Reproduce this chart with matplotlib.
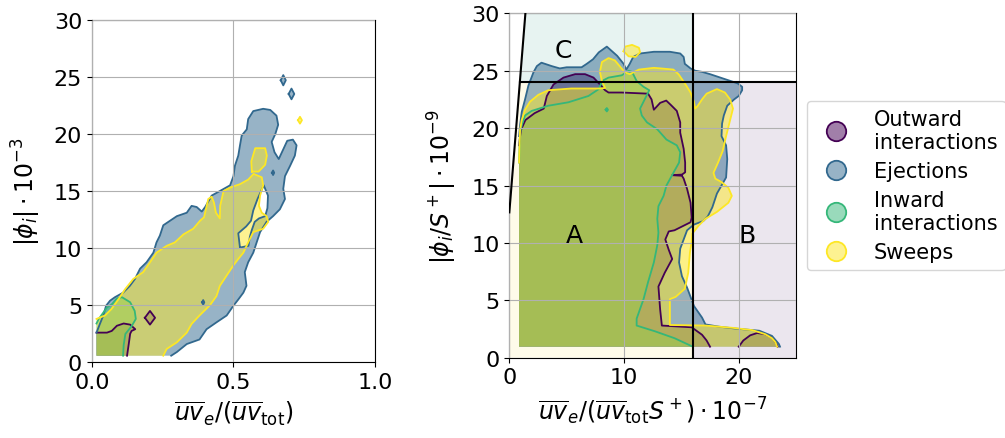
import numpy as np
import matplotlib
matplotlib.use("Agg")
import matplotlib.pyplot as plt
from matplotlib.path import Path
from matplotlib.patches import PathPatch
from matplotlib.lines import Line2D

# quadrant names and viridis colours
labels = ["Outward\ninteractions", "Ejections", "Inward\ninteractions", "Sweeps"]
colors = ["#440154", "#31688e", "#35b779", "#fde725"]

# ---- left panel: |phi_i| vs uv_e/uv_tot, contour outlines (x, y) ----
left_origin = (0.016, 0.58)   # lower-left corner of the kde grid

left_outward = [(0.124, 0.58), (0.13, 1.6), (0.135, 2.5), (0.14, 2.75), (0.153, 2.9),
                (0.135, 3.3), (0.112, 3.4), (0.088, 3.2), (0.07, 2.75), (0.053, 2.6),
                (0.016, 2.6)]
left_outward_island = [(0.187, 3.9), (0.205, 4.5), (0.223, 3.9), (0.205, 3.3)]

left_ejections = [(0.28, 0.58), (0.30, 0.9), (0.335, 1.6), (0.38, 2.0), (0.405, 2.9),
                  (0.44, 3.5), (0.476, 4.1), (0.5, 4.96), (0.517, 5.5), (0.535, 6.1),
                  (0.546, 6.7), (0.54, 7.9), (0.552, 8.76), (0.57, 9.6), (0.582, 10.5),
                  (0.594, 11.4), (0.617, 12.3), (0.64, 12.8), (0.664, 13.4), (0.682, 14.3),
                  (0.676, 15.2), (0.682, 16.3), (0.7, 17.2), (0.717, 18.1), (0.723, 19.0),
                  (0.71, 19.5), (0.69, 19.4), (0.675, 18.6), (0.66, 17.8), (0.645, 18.4),
                  (0.635, 19.3), (0.648, 20.0), (0.658, 20.8), (0.652, 21.6), (0.63, 22.1),
                  (0.605, 22.2), (0.57, 22.0), (0.552, 21.3), (0.547, 20.4), (0.529, 19.85),
                  (0.523, 19.0), (0.517, 18.1), (0.505, 17.2), (0.5, 16.3), (0.488, 15.5),
                  (0.452, 15.0), (0.423, 14.6), (0.40, 13.6), (0.388, 13.2), (0.37, 13.6),
                  (0.352, 13.7), (0.335, 13.1), (0.3, 12.8), (0.276, 12.4), (0.252, 12.0),
                  (0.24, 11.1), (0.228, 10.5), (0.217, 9.6), (0.193, 8.76), (0.17, 8.2),
                  (0.152, 7.3), (0.134, 6.7), (0.11, 6.1), (0.081, 5.7), (0.064, 5.4),
                  (0.05, 4.96), (0.04, 4.1), (0.028, 3.36), (0.016, 2.6)]
left_ejections_hole = [(0.523, 10.05), (0.517, 11.3), (0.545, 11.9), (0.562, 12.4),
                       (0.57, 13.3), (0.585, 14.3), (0.607, 15.5), (0.622, 14.6),
                       (0.62, 13.5), (0.612, 12.8), (0.59, 12.6), (0.575, 12.3),
                       (0.565, 11.6), (0.558, 11.0), (0.553, 10.2)]
left_ejections_islands = [
    [(0.667, 24.7), (0.676, 25.15), (0.685, 24.7), (0.676, 24.25)],
    [(0.695, 23.5), (0.705, 23.97), (0.715, 23.5), (0.705, 23.03)],
    [(0.389, 5.25), (0.393, 5.45), (0.397, 5.25), (0.393, 5.05)],
    [(0.636, 16.6), (0.64, 16.8), (0.644, 16.6), (0.64, 16.4)],
]

left_inward = [(0.11, 0.58), (0.112, 1.5), (0.118, 2.48), (0.141, 3.2), (0.155, 3.8),
               (0.151, 4.5), (0.135, 5.26), (0.106, 5.7), (0.088, 5.6), (0.071, 5.1),
               (0.053, 4.8), (0.024, 3.8), (0.016, 3.4)]

left_sweeps = [(0.252, 0.58), (0.264, 1.17), (0.3, 1.75), (0.335, 2.6), (0.352, 3.36),
               (0.38, 4.1), (0.417, 5.0), (0.44, 5.8), (0.452, 6.7), (0.476, 7.6),
               (0.5, 8.5), (0.517, 9.05), (0.535, 9.6), (0.552, 10.5), (0.57, 11.4),
               (0.605, 11.7), (0.623, 12.3), (0.617, 12.8), (0.6, 13.1), (0.59, 13.7),
               (0.594, 14.6), (0.605, 15.5), (0.6, 16.2), (0.571, 16.5), (0.552, 16.0),
               (0.523, 15.6), (0.488, 15.3), (0.465, 15.0), (0.453, 13.7), (0.452, 12.6),
               (0.438, 13.1), (0.431, 14.0), (0.423, 14.5), (0.411, 14.3), (0.396, 12.7),
               (0.382, 12.4), (0.358, 11.7), (0.323, 11.2), (0.293, 10.5), (0.264, 10.2),
               (0.228, 9.6), (0.205, 8.76), (0.181, 7.9), (0.146, 7.3), (0.117, 6.4),
               (0.093, 5.5), (0.069, 4.67), (0.046, 4.1), (0.016, 3.8)]
left_sweeps_islands = [
    [(0.565, 16.7), (0.563, 17.6), (0.577, 18.75), (0.612, 18.75), (0.618, 18.1),
     (0.612, 17.3), (0.589, 16.7)],
    [(0.728, 21.2), (0.735, 21.5), (0.742, 21.2), (0.735, 20.9)],
]

# ---- right panel: |phi_i/S+| vs uv_e/(uv_tot S+) ----
right_origin = (0.85, 0.96)

right_outward = [(17.5, 0.96), (17.2, 1.5), (16.8, 2.0), (15.9, 2.65), (13.3, 2.8),
                 (13.15, 4.2), (13.0, 6.2), (13.55, 7.4), (14.2, 8.6), (13.9, 9.4),
                 (13.6, 10.3), (13.9, 11.0), (14.4, 11.1), (15.2, 11.5), (15.8, 11.8),
                 (15.9, 12.2), (15.8, 13.5), (15.5, 14.7), (15.2, 15.6), (15.05, 15.85),
                 (14.2, 15.9), (15.05, 15.95), (15.33, 16.15), (15.33, 17.0), (15.2, 18.2),
                 (14.9, 19.6), (14.9, 20.5), (14.6, 21.5), (14.1, 22.0), (13.68, 22.4),
                 (13.15, 22.2), (12.6, 21.6), (12.4, 22.5), (12.1, 23.0), (9.8, 23.1),
                 (8.65, 23.1), (8.35, 23.3), (7.9, 23.8), (7.34, 24.4), (6.6, 24.7),
                 (5.74, 24.7), (4.72, 24.4), (3.85, 23.8), (3.27, 22.8), (3.0, 21.7),
                 (2.2, 21.3), (1.4, 20.7), (1.0, 19.8), (0.85, 18.5)]
right_outward_lobe = [(20.0, 0.96), (20.4, 1.5), (21.0, 1.95), (21.6, 2.15), (22.3, 2.05),
                      (22.9, 1.75), (23.25, 1.3), (23.4, 0.96)]

right_ejections = [(23.6, 0.96), (23.5, 1.2), (22.9, 1.9), (21.8, 2.35), (19.6, 2.55),
                   (18.3, 2.7), (17.1, 2.9), (16.8, 3.5), (16.1, 4.5), (15.5, 6.1),
                   (15.05, 7.1), (14.8, 8.3), (14.9, 9.5), (15.2, 10.3), (15.5, 11.1),
                   (16.1, 11.6), (16.9, 11.9), (17.3, 12.3), (17.7, 13.1), (18.1, 14.3),
                   (18.5, 15.0), (18.9, 15.7), (19.0, 17.3), (18.9, 18.5), (18.5, 19.3),
                   (18.55, 20.4), (18.7, 21.1), (19.0, 21.95), (19.6, 22.5), (20.0, 22.8),
                   (20.3, 23.3), (20.3, 23.6), (19.9, 23.9), (19.3, 24.1), (18.4, 24.4),
                   (17.5, 24.7), (16.8, 24.9), (16.2, 25.0), (15.8, 25.2), (15.3, 25.6),
                   (15.2, 26.2), (14.9, 26.5), (14.0, 26.65), (12.6, 26.65), (11.4, 26.5),
                   (10.8, 26.2), (10.5, 25.6), (10.2, 25.1), (9.96, 25.6), (9.4, 26.3),
                   (8.5, 27.1), (7.8, 26.6), (7.3, 26.0), (6.75, 25.6), (6.3, 25.3),
                   (5.0, 25.3), (4.4, 25.2), (3.7, 25.4), (2.8, 25.7), (2.4, 25.4),
                   (2.1, 24.85), (1.66, 23.7), (1.37, 22.5), (1.08, 21.4), (0.93, 20.2),
                   (0.85, 19.3)]

right_inward = [(16.0, 0.96), (14.4, 1.7), (12.7, 2.3), (11.1, 2.8), (11.1, 3.4),
                (11.7, 5.1), (12.1, 6.6), (12.6, 8.3), (12.9, 9.8), (13.0, 10.9),
                (12.9, 12.1), (13.0, 13.2), (13.45, 14.1), (13.7, 15.0), (14.3, 16.1),
                (14.8, 17.0), (14.9, 17.9), (14.6, 18.5), (13.7, 19.0), (12.9, 19.9),
                (12.0, 20.5), (11.55, 21.1), (11.4, 21.7), (11.8, 22.5), (12.2, 23.3),
                (11.7, 23.6), (11.1, 24.1), (10.7, 24.9), (10.4, 25.0), (9.8, 24.6),
                (8.65, 24.4), (8.07, 24.1), (7.8, 23.4), (6.9, 22.8), (5.15, 22.25),
                (3.4, 21.95), (1.95, 21.5), (1.37, 21.1), (1.1, 20.3), (0.93, 19.6),
                (0.85, 17.0)]
right_inward_dot = [(8.4, 21.6), (8.5, 21.75), (8.6, 21.6), (8.5, 21.45)]

right_sweeps = [(23.35, 0.96), (23.2, 1.35), (22.9, 1.7), (22.3, 2.05), (21.2, 2.4),
                (19.5, 2.6), (17.1, 2.8), (14.0, 2.85), (14.0, 5.1), (14.5, 5.3),
                (15.3, 6.0), (15.6, 7.4), (15.75, 9.2), (15.9, 10.1), (15.95, 10.8),
                (16.5, 11.5), (17.1, 12.1), (18.1, 12.7), (19.1, 13.5), (19.4, 14.1),
                (19.1, 14.8), (18.5, 15.3), (17.96, 15.6), (17.8, 16.1), (18.2, 17.0),
                (18.6, 18.0), (18.9, 19.3), (19.2, 20.5), (19.5, 21.7), (19.25, 22.5),
                (18.8, 23.1), (18.1, 23.4), (17.2, 23.0), (16.8, 22.5), (16.4, 21.9),
                (16.2, 21.7), (16.1, 22.3), (15.8, 23.1), (15.3, 23.9), (14.75, 24.7),
                (14.3, 25.1), (13.2, 25.2), (12.6, 25.25), (11.3, 25.1), (10.5, 24.7),
                (10.1, 24.85), (9.7, 25.3), (9.2, 25.9), (8.65, 26.1), (8.07, 25.75),
                (7.9, 24.9), (8.07, 24.1), (8.35, 23.5), (7.9, 23.45), (5.4, 23.45),
                (3.4, 23.3), (2.53, 22.9), (1.8, 22.3), (1.37, 21.6), (1.08, 20.7),
                (0.93, 19.8), (0.85, 17.0)]
right_sweeps_island = [(9.96, 26.7), (10.1, 27.1), (10.7, 27.25), (11.3, 27.0),
                       (11.4, 26.6), (11.0, 26.2), (10.4, 26.25)]

# region boundaries on the right panel
x_split = 16
y_split = 24
slant_y0 = 12.66     # slanted boundary: y = slant_y0 + slant_k * x
slant_k = 12.38
region_text = [("A", 5.7, 10.7), ("B", 20.7, 10.7), ("C", 4.7, 26.8)]
region_colors = {"A": "#fefbe9", "B": "#ebe6ee", "C": "#e7f3f1"}

ALPHA = 0.5
LW = 1.3


def signed_area(p):
    p = np.asarray(p)
    return 0.5 * np.sum(p[:, 0] * np.roll(p[:, 1], -1) - np.roll(p[:, 0], -1) * p[:, 1])


def ring(p, ccw=True):
    p = np.asarray(p, dtype=float)
    if (signed_area(p) > 0) != ccw:
        p = p[::-1]
    return p


def fill_shape(ax, outer, color, holes=()):
    verts, codes = [], []
    for r in [ring(outer, True)] + [ring(h, False) for h in holes]:
        verts += list(r) + [r[0]]
        codes += [Path.MOVETO] + [Path.LINETO] * (len(r) - 1) + [Path.CLOSEPOLY]
    ax.add_patch(PathPatch(Path(verts, codes), facecolor=color, alpha=ALPHA,
                           edgecolor="none", zorder=1))


def draw_contour(ax, line, origin, color, holes=()):
    # fill closes along the grid edge, only the inner contour gets a stroke
    fill_shape(ax, list(line) + [origin], color, holes)


def stroke(ax, pts, color, closed=False):
    p = np.asarray(pts)
    if closed:
        p = np.vstack([p, p[:1]])
    ax.plot(p[:, 0], p[:, 1], color=color, lw=LW, zorder=2, solid_joinstyle="round")


fig = plt.figure(figsize=(10.05, 4.39), dpi=100)
ax1 = fig.add_axes([0.0915, 0.1724, 0.2816, 0.7804])
ax2 = fig.add_axes([0.5068, 0.1829, 0.2853, 0.7845])

# --- left panel ---
c_out, c_ej, c_in, c_sw = colors
draw_contour(ax1, left_outward, left_origin, c_out)
fill_shape(ax1, left_outward_island, c_out)
draw_contour(ax1, left_ejections, left_origin, c_ej, holes=[left_ejections_hole])
for isl in left_ejections_islands:
    fill_shape(ax1, isl, c_ej)
draw_contour(ax1, left_inward, left_origin, c_in)
draw_contour(ax1, left_sweeps, left_origin, c_sw)
for isl in left_sweeps_islands:
    fill_shape(ax1, isl, c_sw)

stroke(ax1, left_outward, c_out)
stroke(ax1, left_outward_island, c_out, closed=True)
stroke(ax1, left_ejections, c_ej)
stroke(ax1, left_ejections_hole, c_ej, closed=True)
for isl in left_ejections_islands:
    stroke(ax1, isl, c_ej, closed=True)
stroke(ax1, left_inward, c_in)
stroke(ax1, left_sweeps, c_sw)
for isl in left_sweeps_islands:
    stroke(ax1, isl, c_sw, closed=True)

ax1.set_xlim(0, 1)
ax1.set_ylim(0, 30)
ax1.set_xticks([0, 0.5, 1.0])
ax1.set_yticks(range(0, 31, 5))
ax1.set_xlabel(r"$\overline{uv}_e/(\overline{uv}_{\mathrm{tot}})$", fontsize=17, labelpad=5)
ax1.set_ylabel(r"$|\phi_i| \cdot 10^{-3}$", fontsize=17, labelpad=8)

# --- right panel ---
x_top = (30 - slant_y0) / slant_k
x_mid = (y_split - slant_y0) / slant_k
ax2.fill([0, x_split, x_split, x_mid, 0], [0, 0, y_split, y_split, slant_y0],
         color=region_colors["A"], lw=0, zorder=0.5)
ax2.fill([x_split, 25, 25, x_split], [0, 0, y_split, y_split],
         color=region_colors["B"], lw=0, zorder=0.5)
ax2.fill([x_mid, x_split, x_split, x_top], [y_split, y_split, 30, 30],
         color=region_colors["C"], lw=0, zorder=0.5)

draw_contour(ax2, right_outward, right_origin, c_out)
fill_shape(ax2, right_outward_lobe, c_out)
draw_contour(ax2, right_ejections, right_origin, c_ej)
draw_contour(ax2, right_inward, right_origin, c_in)
fill_shape(ax2, right_inward_dot, c_in)
draw_contour(ax2, right_sweeps, right_origin, c_sw)
fill_shape(ax2, right_sweeps_island, c_sw)

stroke(ax2, right_outward, c_out)
stroke(ax2, right_outward_lobe, c_out)
stroke(ax2, right_ejections, c_ej)
stroke(ax2, right_inward, c_in)
stroke(ax2, right_inward_dot, c_in, closed=True)
stroke(ax2, right_sweeps, c_sw)
stroke(ax2, right_sweeps_island, c_sw, closed=True)

# region boundaries
xs = np.array([0, x_top])
ax2.plot(xs, slant_y0 + slant_k * xs, color="black", lw=1.5, zorder=3)
ax2.plot([x_mid, 25], [y_split, y_split], color="black", lw=1.5, zorder=3)
ax2.plot([x_split, x_split], [0, 30], color="black", lw=1.5, zorder=3)
for name, tx, ty in region_text:
    ax2.text(tx, ty, name, fontsize=18, ha="center", va="center", zorder=4)

ax2.set_xlim(0, 25)
ax2.set_ylim(0, 30)
ax2.set_xticks([0, 10, 20])
ax2.set_yticks(range(0, 31, 5))
ax2.set_xlabel(r"$\overline{uv}_e/(\overline{uv}_{\mathrm{tot}}S^+)\cdot 10^{-7}$",
               fontsize=17, labelpad=5)
ax2.set_ylabel(r"$|\phi_i/S^+| \cdot 10^{-9}$", fontsize=17, labelpad=9)

for ax in (ax1, ax2):
    ax.grid(True, color="#b0b0b0", lw=0.8)
    ax.set_axisbelow(False)
    ax.tick_params(labelsize=16)

handles = [Line2D([], [], ls="none", marker="o", markersize=14,
                  markerfacecolor=matplotlib.colors.to_rgba(c, 0.5),
                  markeredgecolor=c, markeredgewidth=1.3) for c in colors]
fig.legend(handles, labels, loc="upper left", bbox_to_anchor=(0.803, 0.768),
           bbox_transform=fig.transFigure, borderaxespad=0, fontsize=15,
           labelspacing=0.42, handletextpad=0.8)

fig.savefig("out.png", dpi=100)
